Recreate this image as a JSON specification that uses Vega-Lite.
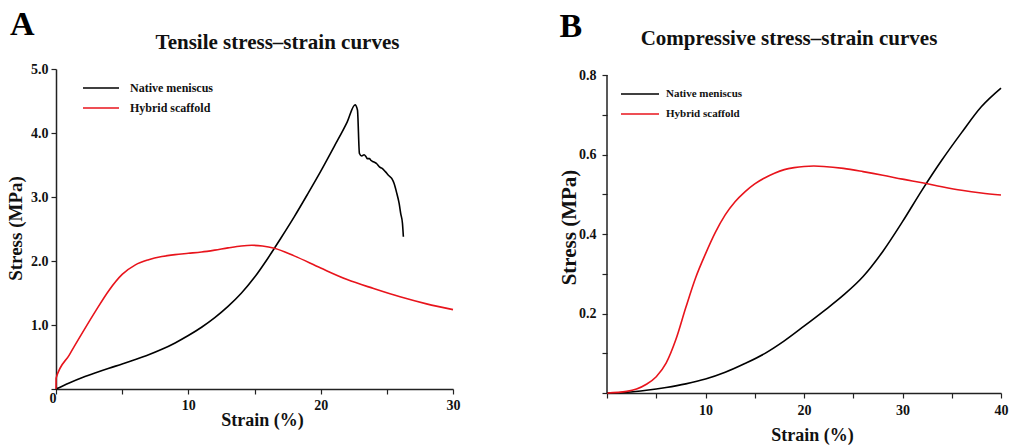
{
  "$schema": "https://vega.github.io/schema/vega-lite/v6.json",
  "autosize": {"type": "none"},
  "padding": {"left": 56, "top": 69, "right": 11, "bottom": 55},
  "params": [{"name": "width", "value": 945}, {"name": "height", "value": 324}],
  "background": "white",
  "bounds": "flush",
  "spacing": 154,
  "data": {"values": [
    {"panel": "A", "sample": "Native meniscus", "strain": 0, "stress": 0},
    {"panel": "A", "sample": "Native meniscus", "strain": 1, "stress": 0.095},
    {"panel": "A", "sample": "Native meniscus", "strain": 2, "stress": 0.18},
    {"panel": "A", "sample": "Native meniscus", "strain": 3, "stress": 0.255},
    {"panel": "A", "sample": "Native meniscus", "strain": 4, "stress": 0.325},
    {"panel": "A", "sample": "Native meniscus", "strain": 5, "stress": 0.39},
    {"panel": "A", "sample": "Native meniscus", "strain": 6, "stress": 0.46},
    {"panel": "A", "sample": "Native meniscus", "strain": 7, "stress": 0.535},
    {"panel": "A", "sample": "Native meniscus", "strain": 8, "stress": 0.62},
    {"panel": "A", "sample": "Native meniscus", "strain": 9, "stress": 0.72},
    {"panel": "A", "sample": "Native meniscus", "strain": 10, "stress": 0.835},
    {"panel": "A", "sample": "Native meniscus", "strain": 11, "stress": 0.965},
    {"panel": "A", "sample": "Native meniscus", "strain": 12, "stress": 1.115},
    {"panel": "A", "sample": "Native meniscus", "strain": 13, "stress": 1.29},
    {"panel": "A", "sample": "Native meniscus", "strain": 14, "stress": 1.495},
    {"panel": "A", "sample": "Native meniscus", "strain": 15, "stress": 1.745},
    {"panel": "A", "sample": "Native meniscus", "strain": 16, "stress": 2.04},
    {"panel": "A", "sample": "Native meniscus", "strain": 17, "stress": 2.36},
    {"panel": "A", "sample": "Native meniscus", "strain": 18, "stress": 2.69},
    {"panel": "A", "sample": "Native meniscus", "strain": 19, "stress": 3.04},
    {"panel": "A", "sample": "Native meniscus", "strain": 20, "stress": 3.4},
    {"panel": "A", "sample": "Native meniscus", "strain": 21, "stress": 3.78},
    {"panel": "A", "sample": "Native meniscus", "strain": 22, "stress": 4.17},
    {"panel": "A", "sample": "Native meniscus", "strain": 22.6, "stress": 4.44},
    {"panel": "A", "sample": "Native meniscus", "strain": 22.78, "stress": 4.36},
    {"panel": "A", "sample": "Native meniscus", "strain": 22.93, "stress": 3.68},
    {"panel": "A", "sample": "Native meniscus", "strain": 23.1, "stress": 3.64},
    {"panel": "A", "sample": "Native meniscus", "strain": 23.28, "stress": 3.66},
    {"panel": "A", "sample": "Native meniscus", "strain": 23.43, "stress": 3.63},
    {"panel": "A", "sample": "Native meniscus", "strain": 23.53, "stress": 3.6},
    {"panel": "A", "sample": "Native meniscus", "strain": 23.68, "stress": 3.6},
    {"panel": "A", "sample": "Native meniscus", "strain": 23.81, "stress": 3.57},
    {"panel": "A", "sample": "Native meniscus", "strain": 23.99, "stress": 3.55},
    {"panel": "A", "sample": "Native meniscus", "strain": 24.24, "stress": 3.52},
    {"panel": "A", "sample": "Native meniscus", "strain": 24.44, "stress": 3.47},
    {"panel": "A", "sample": "Native meniscus", "strain": 24.62, "stress": 3.45},
    {"panel": "A", "sample": "Native meniscus", "strain": 24.87, "stress": 3.4},
    {"panel": "A", "sample": "Native meniscus", "strain": 25.12, "stress": 3.34},
    {"panel": "A", "sample": "Native meniscus", "strain": 25.37, "stress": 3.29},
    {"panel": "A", "sample": "Native meniscus", "strain": 25.55, "stress": 3.21},
    {"panel": "A", "sample": "Native meniscus", "strain": 25.75, "stress": 3.06},
    {"panel": "A", "sample": "Native meniscus", "strain": 25.93, "stress": 2.9},
    {"panel": "A", "sample": "Native meniscus", "strain": 26.05, "stress": 2.74},
    {"panel": "A", "sample": "Native meniscus", "strain": 26.18, "stress": 2.59},
    {"panel": "A", "sample": "Native meniscus", "strain": 26.25, "stress": 2.38},
    {"panel": "A", "sample": "Hybrid scaffold", "strain": 0, "stress": 0},
    {"panel": "A", "sample": "Hybrid scaffold", "strain": 0.01, "stress": 0.17},
    {"panel": "A", "sample": "Hybrid scaffold", "strain": 1, "stress": 0.53},
    {"panel": "A", "sample": "Hybrid scaffold", "strain": 2, "stress": 0.88},
    {"panel": "A", "sample": "Hybrid scaffold", "strain": 3, "stress": 1.22},
    {"panel": "A", "sample": "Hybrid scaffold", "strain": 4, "stress": 1.54},
    {"panel": "A", "sample": "Hybrid scaffold", "strain": 5, "stress": 1.79},
    {"panel": "A", "sample": "Hybrid scaffold", "strain": 6, "stress": 1.94},
    {"panel": "A", "sample": "Hybrid scaffold", "strain": 7, "stress": 2.02},
    {"panel": "A", "sample": "Hybrid scaffold", "strain": 8, "stress": 2.07},
    {"panel": "A", "sample": "Hybrid scaffold", "strain": 9, "stress": 2.1},
    {"panel": "A", "sample": "Hybrid scaffold", "strain": 10, "stress": 2.12},
    {"panel": "A", "sample": "Hybrid scaffold", "strain": 11, "stress": 2.14},
    {"panel": "A", "sample": "Hybrid scaffold", "strain": 12, "stress": 2.17},
    {"panel": "A", "sample": "Hybrid scaffold", "strain": 13, "stress": 2.205},
    {"panel": "A", "sample": "Hybrid scaffold", "strain": 14, "stress": 2.235},
    {"panel": "A", "sample": "Hybrid scaffold", "strain": 14.8, "stress": 2.245},
    {"panel": "A", "sample": "Hybrid scaffold", "strain": 15.6, "stress": 2.235},
    {"panel": "A", "sample": "Hybrid scaffold", "strain": 16.5, "stress": 2.2},
    {"panel": "A", "sample": "Hybrid scaffold", "strain": 18, "stress": 2.08},
    {"panel": "A", "sample": "Hybrid scaffold", "strain": 20, "stress": 1.89},
    {"panel": "A", "sample": "Hybrid scaffold", "strain": 22, "stress": 1.71},
    {"panel": "A", "sample": "Hybrid scaffold", "strain": 24, "stress": 1.57},
    {"panel": "A", "sample": "Hybrid scaffold", "strain": 26, "stress": 1.44},
    {"panel": "A", "sample": "Hybrid scaffold", "strain": 28, "stress": 1.33},
    {"panel": "A", "sample": "Hybrid scaffold", "strain": 30, "stress": 1.24},
    {"panel": "B", "sample": "Native meniscus", "strain": 0, "stress": 0},
    {"panel": "B", "sample": "Native meniscus", "strain": 2, "stress": 0.002},
    {"panel": "B", "sample": "Native meniscus", "strain": 4, "stress": 0.007},
    {"panel": "B", "sample": "Native meniscus", "strain": 6, "stress": 0.014},
    {"panel": "B", "sample": "Native meniscus", "strain": 8, "stress": 0.023},
    {"panel": "B", "sample": "Native meniscus", "strain": 10, "stress": 0.035},
    {"panel": "B", "sample": "Native meniscus", "strain": 12, "stress": 0.052},
    {"panel": "B", "sample": "Native meniscus", "strain": 14, "stress": 0.074},
    {"panel": "B", "sample": "Native meniscus", "strain": 16, "stress": 0.099},
    {"panel": "B", "sample": "Native meniscus", "strain": 18, "stress": 0.131},
    {"panel": "B", "sample": "Native meniscus", "strain": 20, "stress": 0.168},
    {"panel": "B", "sample": "Native meniscus", "strain": 22, "stress": 0.206},
    {"panel": "B", "sample": "Native meniscus", "strain": 24, "stress": 0.246},
    {"panel": "B", "sample": "Native meniscus", "strain": 26, "stress": 0.293},
    {"panel": "B", "sample": "Native meniscus", "strain": 28, "stress": 0.356},
    {"panel": "B", "sample": "Native meniscus", "strain": 30, "stress": 0.431},
    {"panel": "B", "sample": "Native meniscus", "strain": 32, "stress": 0.511},
    {"panel": "B", "sample": "Native meniscus", "strain": 34, "stress": 0.586},
    {"panel": "B", "sample": "Native meniscus", "strain": 36, "stress": 0.655},
    {"panel": "B", "sample": "Native meniscus", "strain": 38, "stress": 0.72},
    {"panel": "B", "sample": "Native meniscus", "strain": 40, "stress": 0.767},
    {"panel": "B", "sample": "Hybrid scaffold", "strain": 0, "stress": 0},
    {"panel": "B", "sample": "Hybrid scaffold", "strain": 2, "stress": 0.004},
    {"panel": "B", "sample": "Hybrid scaffold", "strain": 3, "stress": 0.01},
    {"panel": "B", "sample": "Hybrid scaffold", "strain": 4, "stress": 0.022},
    {"panel": "B", "sample": "Hybrid scaffold", "strain": 5, "stress": 0.041},
    {"panel": "B", "sample": "Hybrid scaffold", "strain": 6, "stress": 0.075},
    {"panel": "B", "sample": "Hybrid scaffold", "strain": 7, "stress": 0.135},
    {"panel": "B", "sample": "Hybrid scaffold", "strain": 8, "stress": 0.215},
    {"panel": "B", "sample": "Hybrid scaffold", "strain": 9, "stress": 0.29},
    {"panel": "B", "sample": "Hybrid scaffold", "strain": 10, "stress": 0.35},
    {"panel": "B", "sample": "Hybrid scaffold", "strain": 11, "stress": 0.404},
    {"panel": "B", "sample": "Hybrid scaffold", "strain": 12, "stress": 0.448},
    {"panel": "B", "sample": "Hybrid scaffold", "strain": 13, "stress": 0.481},
    {"panel": "B", "sample": "Hybrid scaffold", "strain": 14, "stress": 0.506},
    {"panel": "B", "sample": "Hybrid scaffold", "strain": 15, "stress": 0.526},
    {"panel": "B", "sample": "Hybrid scaffold", "strain": 16, "stress": 0.541},
    {"panel": "B", "sample": "Hybrid scaffold", "strain": 17, "stress": 0.553},
    {"panel": "B", "sample": "Hybrid scaffold", "strain": 18, "stress": 0.562},
    {"panel": "B", "sample": "Hybrid scaffold", "strain": 19, "stress": 0.567},
    {"panel": "B", "sample": "Hybrid scaffold", "strain": 20, "stress": 0.57},
    {"panel": "B", "sample": "Hybrid scaffold", "strain": 21, "stress": 0.571},
    {"panel": "B", "sample": "Hybrid scaffold", "strain": 22, "stress": 0.57},
    {"panel": "B", "sample": "Hybrid scaffold", "strain": 24, "stress": 0.565},
    {"panel": "B", "sample": "Hybrid scaffold", "strain": 26, "stress": 0.557},
    {"panel": "B", "sample": "Hybrid scaffold", "strain": 28, "stress": 0.548},
    {"panel": "B", "sample": "Hybrid scaffold", "strain": 30, "stress": 0.538},
    {"panel": "B", "sample": "Hybrid scaffold", "strain": 32, "stress": 0.529},
    {"panel": "B", "sample": "Hybrid scaffold", "strain": 34, "stress": 0.519},
    {"panel": "B", "sample": "Hybrid scaffold", "strain": 36, "stress": 0.51},
    {"panel": "B", "sample": "Hybrid scaffold", "strain": 38, "stress": 0.503},
    {"panel": "B", "sample": "Hybrid scaffold", "strain": 40, "stress": 0.498}
  ]},
  "hconcat": [
    {
      "width": 397,
      "height": 320,
      "title": {"text": "Tensile stress–strain curves", "frame": "group", "anchor": "middle", "dx": 23, "offset": -45, "fontSize": 21, "font": "Liberation Serif", "fontWeight": "bold", "color": "#111"},
      "layer": [
        {
          "transform": [{"filter": "datum.panel === 'A'"}],
          "mark": {"type": "line", "strokeWidth": 1.6, "interpolate": "monotone"},
          "encoding": {
            "x": {"field": "strain", "type": "quantitative", "scale": {"domain": [0, 30], "nice": false},
              "axis": {"values": [0, 5, 10, 15, 20, 25, 30], "labelExpr": "datum.value % 10 === 0 ? datum.label : ''", "labelAlign": {"condition": {"test": "datum.value === 0", "value": "right"}, "value": "center"}, "labelBaseline": {"condition": {"test": "datum.value === 0", "value": "middle"}, "value": "top"}, "title": "Strain (%)", "titleX": 206, "titleY": 31, "titleBaseline": "middle", "titleAlign": "center", "titleFontSize": 18, "labelPadding": 4}},
            "y": {"field": "stress", "type": "quantitative", "scale": {"domain": [0, 5], "nice": false},
              "axis": {"values": [0, 0.5, 1, 1.5, 2, 2.5, 3, 3.5, 4, 4.5, 5], "labelExpr": "datum.value > 0 && datum.value % 1 === 0 ? format(datum.value, '.1f') : ''", "title": "Stress (MPa)", "titleX": -41, "titleY": 159, "titleAngle": 270, "titleBaseline": "middle", "titleAlign": "center", "titleFontSize": 19, "labelPadding": 3}},
            "color": {"field": "sample", "type": "nominal", "scale": {"domain": ["Native meniscus", "Hybrid scaffold"], "range": ["#000000", "#e8141c"]},
              "legend": {"orient": "none", "legendX": 26, "legendY": 9, "title": null, "symbolType": "stroke", "symbolSize": 1296, "symbolStrokeWidth": 1.6, "clipHeight": 20, "labelFontSize": 12, "labelFont": "Liberation Serif", "labelFontWeight": "bold", "labelColor": "#111", "labelOffset": 10, "padding": 0, "rowPadding": 0}}
          }
        },
        {
          "data": {"values": [{"label": "A"}]},
          "mark": {"type": "text", "fontSize": 34, "fontWeight": "bold", "font": "Liberation Serif", "align": "left", "baseline": "alphabetic", "color": "#000"},
          "encoding": {
            "x": {"datum": -3.48, "type": "quantitative"},
            "y": {"datum": 5.53, "type": "quantitative"},
            "text": {"field": "label"}
          }
        }
      ]
    },
    {
      "width": 394,
      "height": 324,
      "title": {"text": "Compressive stress–strain curves", "frame": "group", "anchor": "middle", "dx": -15, "offset": -39, "fontSize": 21, "font": "Liberation Serif", "fontWeight": "bold", "color": "#111"},
      "layer": [
        {
          "transform": [{"filter": "datum.panel === 'B'"}],
          "mark": {"type": "line", "strokeWidth": 1.6, "interpolate": "monotone"},
          "encoding": {
            "x": {"field": "strain", "type": "quantitative", "scale": {"domain": [0, 40], "nice": false},
              "axis": {"values": [0, 5, 10, 15, 20, 25, 30, 35, 40], "labelExpr": "datum.value % 10 === 0 && datum.value > 0 ? datum.label : ''", "title": "Strain (%)", "titleX": 205, "titleY": 42, "titleBaseline": "middle", "titleAlign": "center", "titleFontSize": 18, "labelPadding": 5}},
            "y": {"field": "stress", "type": "quantitative", "scale": {"domain": [0, 0.8151], "nice": false, "zero": true},
              "axis": {"domain": false, "values": [0, 0.1, 0.2, 0.3, 0.4, 0.5, 0.6, 0.7, 0.8], "labelExpr": "datum.value > 0.05 && round(datum.value * 10) % 2 === 0 ? format(datum.value, '.1f') : ''", "title": "Stress (MPa)", "titleX": -38, "titleY": 158, "titleAngle": 270, "titleBaseline": "middle", "titleAlign": "center", "titleFontSize": 21, "labelPadding": 6}},
            "color": {"field": "sample", "type": "nominal", "scale": {"domain": ["Native meniscus", "Hybrid scaffold"], "range": ["#000000", "#e8141c"]},
              "legend": {"orient": "none", "legendX": 13, "legendY": 15, "title": null, "symbolType": "stroke", "symbolSize": 1444, "symbolStrokeWidth": 1.6, "clipHeight": 20, "labelFontSize": 11, "labelFont": "Liberation Serif", "labelFontWeight": "bold", "labelColor": "#111", "labelOffset": 6, "padding": 0, "rowPadding": 0}}
          }
        },
        {
          "data": {"values": [{"axis": "y"}]},
          "mark": {"type": "rule", "color": "#222", "strokeWidth": 1.5},
          "encoding": {
            "x": {"datum": 0, "type": "quantitative"},
            "y": {"datum": 0, "type": "quantitative"},
            "y2": {"datum": 0.8}
          }
        },
        {
          "data": {"values": [{"label": "B"}]},
          "mark": {"type": "text", "fontSize": 34, "fontWeight": "bold", "font": "Liberation Serif", "align": "left", "baseline": "alphabetic", "color": "#000"},
          "encoding": {
            "x": {"datum": -4.81, "type": "quantitative"},
            "y": {"datum": 0.8956, "type": "quantitative"},
            "text": {"field": "label"}
          }
        }
      ]
    }
  ],
  "resolve": {"legend": {"color": "independent"}},
  "config": {
    "view": {"stroke": null},
    "font": "Liberation Serif",
    "axis": {
      "grid": false,
      "domainColor": "#222",
      "domainWidth": 1.5,
      "tickColor": "#222",
      "tickWidth": 1.2,
      "tickSize": 5,
      "labelFont": "Liberation Serif",
      "labelFontWeight": "bold",
      "labelFontSize": 14,
      "labelColor": "#111",
      "labelFlush": false,
      "labelOverlap": false,
      "titleFont": "Liberation Serif",
      "titleFontWeight": "bold",
      "titleColor": "#111"
    }
  }
}
